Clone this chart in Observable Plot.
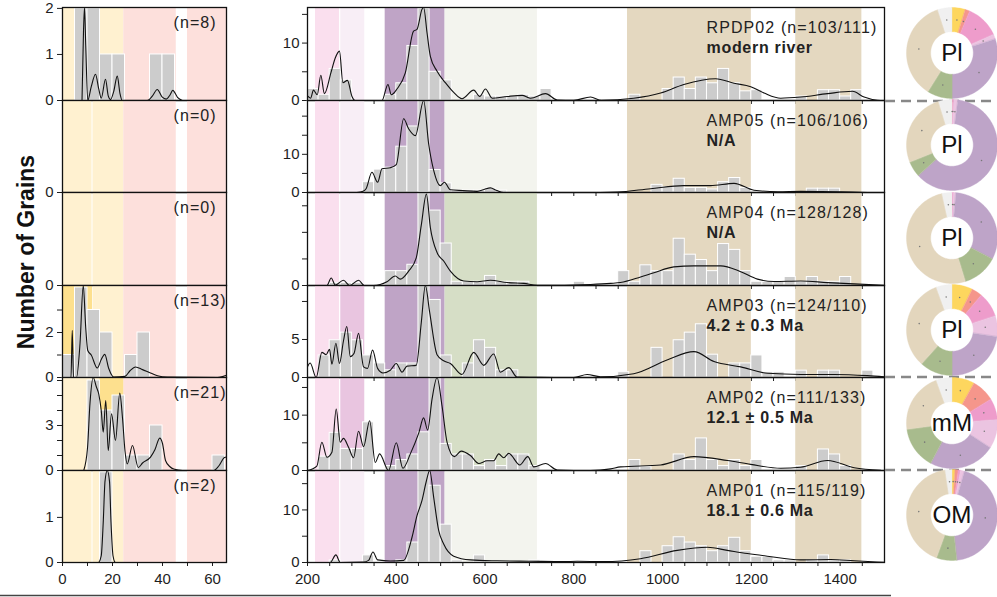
<!DOCTYPE html>
<html><head><meta charset="utf-8">
<script src="https://cdn.jsdelivr.net/npm/d3@7"></script>
<script src="https://cdn.jsdelivr.net/npm/@observablehq/plot@0.6"></script>
<style>
body{margin:0;background:#fff;}
#fig{position:relative;width:997px;height:597px;overflow:hidden;background:#fff;font-family:"Liberation Sans",Arial,sans-serif;}
#fig .p{position:absolute;}
</style></head><body><div id="fig"></div>
<script>
// ---------- DATA ----------
const samples = ["RPDP02","AMP05","AMP04","AMP03","AMP02","AMP01"];
const nCounts = ["(n=103/111)","(n=106/106)","(n=128/128)","(n=124/110)","(n=111/133)","(n=115/119)"];
const ageNotes = ["modern river","N/A","N/A","4.2 \u00b1 0.3 Ma","12.1 \u00b1 0.5 Ma","18.1 \u00b1 0.6 Ma"];
const leftN = ["(n=8)","(n=0)","(n=0)","(n=13)","(n=21)","(n=2)"];
const donutLabels = ["Pl","Pl","Pl","Pl","mM","OM"];

// left panel (young ages, Ma): counts per 5 Myr bin starting at 0
const leftCounts = [
  [0,2,2,1,1,0,0,1,1,0,0,0,0],
  [0,0,0,0,0,0,0,0,0,0,0,0,0],
  [0,0,0,0,0,0,0,0,0,0,0,0,0],
  [1,4,3,2,0,1,2,0,0,0,0,0,0],
  [0,0,6,4,5,1,1,3,0,0,0,0,1],
  [0,0,0,2,0,0,0,0,0,0,0,0,0]
];
const leftKde = [
  [[7.8,0],[8.4,1.5],[8.8,2.6],[9.3,1.2],[10.1,0],[11.5,0.3],[13.2,0.57],[14.5,0.25],[15.5,0.05],[17.2,0.46],[18.3,0.1],[19.2,0.02],[20.5,0.2],[21.9,0.53],[23,0.15],[23.9,0],[33.9,0],[36,0.1],[37.9,0.24],[39.8,0.08],[41.5,0.03],[43,0.12],[44.1,0.22],[46,0.07],[47.9,0]],
  [],
  [],
  [[0,0],[3.4,0],[3.9,2.1],[4.4,0],[5.6,0],[7,1.5],[8.3,4.3],[9.3,2.2],[10.1,1.2],[11.5,1.0],[13.9,0.42],[15.5,0.8],[16.9,1.03],[18.5,0.4],[20.5,0.02],[25,0.05],[27,0.3],[29.2,0.47],[32,0.35],[35.2,0.2],[38,0.08],[41.9,0.02],[62,0],[64,0.04],[65.6,0.1]],
  [[8.5,0],[10,1.5],[11,4.5],[12.3,6.3],[13.5,5.6],[14.5,5.1],[15.5,4],[16.3,2.56],[17.3,4.67],[18.3,1.33],[19.6,3.78],[21.2,2.0],[22.9,5.16],[24,3.5],[25,1.3],[25.9,0.44],[28,1.67],[30.3,0.2],[32,0.5],[35.2,0.89],[37,1.4],[38.9,2.16],[40,1.8],[41.2,0.67],[43,0.25],[44.5,0.1],[48,0],[60.5,0],[62.5,0.3],[64.8,0.87],[65.6,0.9]],
  [[14.5,0],[15.5,0.15],[16.3,0.9],[17,1.8],[17.9,2.5],[18.8,1.8],[19.4,0.9],[20.2,0.15],[21,0]]
];

// middle panel (Ma): counts per 25 Myr bin from 200 to 1475
const midCounts = [
  [2,1,5.5,3.5,0,0,0,1,3,9.5,16,5,3.5,0,0,1,0.7,0.7,0.7,1,0.7,2,0,0,0,0,0,0,0,1,0,0,2,4,2,4,3,5.5,3,1.6,1.8,0,0,0,0.7,0,1.8,1.8,0.7,1.8,0,0],
  [0,0,0,0,0,2.7,6,6.5,12,17.3,24,5.9,2.4,0.5,0.5,0.5,1,0.5,0,0,0,0,0,0,0,0,0,0,0,0,0,2,1.4,3.6,1.2,1.2,0.8,2.7,3.8,1.2,0,0,0,0,0,1,1,1,0,0,0,0],
  [0,0,0.5,0.5,0.5,0,0,2.7,2.7,3.9,18,14.1,7.9,0.7,0.7,0.7,1.8,0.7,0.7,0.7,0,0,0,0,0.7,0,0,0,2.7,0.7,3.8,2.7,2.7,8.8,5.8,4.8,2.7,7.8,6.7,2.7,0.7,0.7,0.7,1.6,0.7,1.6,0.7,0.7,1.6,0,0,0],
  [0,2.9,4.9,5.9,4.9,2.9,1.85,0.95,1.85,1.85,13,10.2,2.9,0,1.85,4.9,3.9,0.95,0.95,0,0,0,0,0,0,0,0,0,0.7,0,0,3.9,0,4.9,5.9,7,3,0,1.85,1.85,2.9,0.7,0.7,0,0.9,0,0.9,0.9,0,0,0.9,0],
  [0,2.5,6.8,3.9,3.9,8.7,0,0.8,1.9,2.9,6.9,17.5,4.8,2.9,2.9,0.8,1.9,0.8,2.9,2.9,0.8,0,0,0,0,0,0,0,0,1.9,0.65,0,0,2.9,1.9,5.8,1.9,0.8,1.9,0.8,1.9,0,0,0,0.8,0,3.8,2.9,0.8,0,0,0],
  [0,0,0.4,0,0,1.35,0,0,0.4,3.8,17.6,14.6,7.2,0.4,0,1.35,0,0,0,0,0.4,0,0,0,0.25,0,0,0,0,0,2.15,0,3.1,4.8,3.8,3.1,2.15,3.1,4.7,2.15,1.1,1.1,0.4,0.4,0,0.4,1.35,0.4,0.4,0,0,0]
];
const midKde = [
  [[200,0.8],[207,0.4],[213.5,1.8],[222,1.0],[230,4.4],[238,1.2],[252.7,4.8],[262.5,7.4],[272,8.6],[279.8,3.1],[290,3.5],[300,0.75],[307.6,0],[367.8,0],[381.3,2.8],[388.8,1.0],[401.6,2.0],[420.4,4.8],[439,12.1],[446.7,12.4],[458,15.9],[461.7,16.6],[469.3,11.8],[476.8,7.7],[491.9,5.1],[510.6,3.1],[529.4,1.4],[548.2,0.3],[574.5,1.8],[588,0.7],[600.9,2.0],[616,0.4],[649.8,0.7],[683.6,0.9],[702.4,0.4],[736.2,1.2],[762.6,0.1],[800,0.05],[837.7,0.6],[862,0.05],[935,0.4],[995.6,1.3],[1048,2.8],[1119.7,3.8],[1161,3.0],[1198.6,2.4],[1228.7,1.3],[1266,0.4],[1311,0.6],[1371.7,1.2],[1428,1.6],[1454,0.6],[1484,0.05],[1500,0]],
  [[311,0],[325,0.3],[332,1.0],[345.2,5.3],[358,2.7],[367.8,6.2],[386.6,6.5],[400,7.3],[416.6,19.3],[427.8,16.7],[443,14.9],[461.7,24.5],[473,12.7],[484.3,5.8],[499.3,1.8],[508.4,2.7],[521.9,0.7],[550,0.5],[582,0.3],[598,0.8],[612,1.2],[627,0.5],[642,0],[860,0],[898,0.1],[973,1.0],[1048,1.8],[1108,1.8],[1161,2.4],[1206,0.6],[1260,0.2],[1311,0.3],[1402,0.2],[1462,0]],
  [[200,0],[243.7,0],[253.5,1.4],[262.5,0.1],[281,1.0],[294.7,0],[315,1.0],[328,0],[349,0],[379,0.7],[397.8,1.8],[409,1.2],[427.8,2.7],[445,5.2],[456.6,11.5],[467.8,17.2],[476.8,10.9],[491.9,6.2],[506.8,4.6],[521.9,2.7],[552,0.85],[582,0.7],[612,1.0],[649.8,0.55],[687.3,0.4],[717.5,0.05],[762.6,0.05],[837.7,0.2],[883,0.4],[905,0.55],[950.5,1.6],[980.5,2.4],[1025.6,3.5],[1070.7,3.7],[1131,3.7],[1176,2.6],[1213.7,1.2],[1251,0.75],[1311.4,0.85],[1371.7,0.55],[1431.7,0.3],[1499,0.05]],
  [[200,1.4],[206,1.9],[219.6,0],[232.4,3.3],[242,3.0],[249.6,3.7],[255,1.75],[264,4.5],[272,1.85],[281,4.8],[288.6,6.7],[296.3,2.75],[305,3.2],[315,5.8],[326.3,1.4],[335.3,1.2],[346.6,3.6],[358,1.2],[370,0.6],[386.6,0.95],[400,1.85],[413,0.7],[424.2,1.5],[445,1.6],[456.5,7.3],[465.5,13],[475.2,8.6],[491.9,3.0],[506.8,2.2],[521.9,1.85],[548,0.4],[574.5,3.3],[597,1.6],[619.6,3.1],[634.7,0.7],[653.5,1.3],[672.3,0.05],[725,0.02],[800,0],[830,0.4],[860,0.1],[935,0.5],[1010,2.3],[1070.7,3.4],[1115.8,2.1],[1176,1.4],[1236.7,0.55],[1311,0.4],[1386,0.4],[1461.5,0.25],[1500,0.1]],
  [[200,0],[221,0.8],[232.4,5.1],[243.7,2.4],[255,3.3],[264.7,11.1],[273.8,5.1],[281,5.8],[292.5,4.2],[303.8,2.3],[315,7.1],[326.3,4.3],[340,9.0],[352.7,1.45],[362.4,3.0],[382.7,0],[400,5.0],[415,0.4],[431.7,3.0],[450.4,6.7],[461.7,9.5],[470.7,7.3],[480.6,12.9],[491.9,16.8],[503.2,11.6],[514.5,5.1],[531,2.5],[546,3.5],[567,2.7],[585.7,1.26],[604.6,1.76],[619.6,1.76],[630.9,3.0],[642,2.3],[653.5,3.1],[678.3,1.0],[696.3,2.5],[709.8,0.65],[736.2,1.26],[762.6,0.1],[837.7,0],[883,0.3],[905.4,0.65],[995.6,1.0],[1070.7,2.5],[1146,1.8],[1198.6,1.1],[1266.3,0.4],[1311,0.6],[1371.7,1.8],[1431.7,0.5],[1492,0.05]],
  [[200,0],[251,0],[264,1.45],[273.8,0],[326.3,0.08],[337.6,0.4],[347.5,2.0],[358,0.5],[386.6,0.28],[416.6,0.4],[435.5,4.8],[446.7,8.9],[458,11.8],[467.8,15.5],[475.3,17.6],[484.3,12.4],[495.5,6.1],[506.8,3.5],[529.4,1.2],[567,0.5],[627,0.32],[702.4,0.24],[777.5,0.16],[807.6,0.24],[867.7,0.16],[950,0.72],[1033,2.3],[1101,2.9],[1146,2.3],[1191,1.7],[1236,1.2],[1311,0.5],[1379,0.56],[1432,0.32],[1500,0.04]]
];

// donut shares (degrees): yellow, salmon, pink, light pink, purple, green, tan, grey
const donutShares = [
  [17,6,43,6,108,32,130,18],
  [0,0.5,2,5,220.5,20,95,17],
  [0,0,2,3,112.5,45.5,184.5,12.5],
  [26.5,13.5,32,26.5,81.5,42,118,20],
  [29,29.7,27.3,37,85,54,78,20],
  [4,4,3,5,158,26,151.6,8.4]
];
const donutColors = ["#fdd65e","#f5968b","#ee9ccb","#ebc4e1","#bea4c8","#a8bb8d","#e3d6bd","#f0f0f0"];

// age windows (background bands)
const leftBands = [[0,11.8,"#fff1d0"],[12.2,24.5,"#fff1d0"],[24.5,45.5,"#fde0dc"],[50,65.6,"#fde0dc"]];
const leftHighlight = [null,null,null,[0,12],[15,24.5],null];
const midBands = [[218,272,"pinkA"],[275,329,"pinkB"],[375,510,"purple"],[510,718,"green"],[921,1200,"tan"],[1300,1449,"tan"]];
const pinkBStrong = [false,false,false,true,true,false];
const greenStrong = [false,false,true,true,true,false];

// ---------- LAYOUT ----------
const rowTops = [7,100,192,285,377,470];
const rowH = [93,92,93,92,93,92];
const leftYMax = [2.02,1,1,4.09,6.2,2.04];
const leftYTicks = [[0,1,2],[0],[0],[0,1,2,3],[0,1,2,3,4,5,6],[0,1]];
const leftYLabels = [[0,1,2],[0],[0],[0,2],[0,3],[0,1]];
const midYMax = [16.2,24.1,17.5,12.1,16.8,17.5];
const midYTicks = [[0,5,10,15],[0,5,10,15,20],[0,5,10,15],[0,5,10],[0,5,10,15],[0,5,10,15]];
const midYLabels = [[0,10],[0,10],[0],[0,5],[0,10],[0,10]];

const fig = document.getElementById("fig");
const style = {background:"transparent", overflow:"visible", fontSize:"15px",
  fontFamily:"'Liberation Sans', Arial, Helvetica, sans-serif", color:"#1e1e1e"};

function place(el, left, top) {
  const d = document.createElement("div");
  d.className = "p"; d.style.left = left + "px"; d.style.top = top + "px";
  d.appendChild(el); fig.appendChild(d);
}
function spaceLabels(svg) {
  svg.querySelectorAll('g[aria-label="text"]').forEach(g => {
    g.style.letterSpacing = g.getAttribute("font-weight") === "bold" ? "0.7px" : "1.1px";
  });
  return svg;
}

for (let i = 0; i < 6; i++) {
  const last = i === 5;
  const mb = last ? 32 : 0;
  // LEFT
  const lbars = leftCounts[i].map((v,k) => ({x0: k*5, x1: k*5+5, v})).filter(d => d.v > 0);
  const lbands = leftBands.map(b => ({a:b[0], b:b[1], c:b[2]}));
  if (leftHighlight[i]) lbands.push({a:leftHighlight[i][0], b:leftHighlight[i][1], c:"#fde08e"});
  const lk = leftKde[i].map(p => ({x:p[0], y:p[1]}));
  const left = Plot.plot({
    width: 230, height: rowH[i] + mb, marginLeft: 62, marginRight: 4, marginTop: 0, marginBottom: mb,
    style,
    x: {domain:[0,65.6], ticks: last ? [0,10,20,30,40,50,60] : [10,20,30,40,50,60], tickSize: 4, tickPadding: 7,
        tickFormat: d => (last && d % 20 === 0) ? String(d) : "", label: null},
    y: {domain:[0,leftYMax[i]], clamp: true, ticks: leftYTicks[i], tickSize: 5, tickPadding: 4,
        tickFormat: d => leftYLabels[i].includes(d) ? String(d) : "", label: null},
    marks: [
      Plot.rect(lbands, {x1:"a", x2:"b", y1:0, y2:leftYMax[i], fill:"c"}),
      Plot.rectY(lbars, {x1:"x0", x2:"x1", y:"v", fill:"#cccccc", stroke:"white", strokeWidth:1}),
      Plot.line(lk, {x:"x", y:"y", curve:"monotone-x", stroke:"#111", strokeWidth:1.1}),
      Plot.text([leftN[i]], {frameAnchor:"top-left", text:d=>d, textAnchor:"start", lineAnchor:"top", dx:111, dy:9, fontSize:16, fill:"#222"}),
      Plot.frame({stroke:"#111", strokeWidth:1.3})
    ]
  });
  place(spaceLabels(left), 0, rowTops[i]);

  // MIDDLE
  const mbars = midCounts[i].map((v,k) => ({x0: 200+k*25, x1: 225+k*25, v})).filter(d => d.v > 0);
  const mbands = midBands.map(b => {
    let c;
    if (b[2] === "pinkA") c = "#fadfee";
    else if (b[2] === "pinkB") c = pinkBStrong[i] ? "#e9c5e0" : "#f8eef6";
    else if (b[2] === "purple") c = "#bfa4c6";
    else if (b[2] === "green") c = greenStrong[i] ? "#d6dec6" : "#f3f4ee";
    else c = "#e4d8c0";
    return {a:b[0], b:b[1], c};
  });
  const mk = midKde[i].map(p => ({x:p[0], y:p[1]}));
  const mid = Plot.plot({
    width: 646, height: rowH[i] + mb, marginLeft: 67, marginRight: 2, marginTop: 0, marginBottom: mb,
    style,
    x: {domain:[200,1500], ticks: last ? d3.range(200,1500,50) : d3.range(250,1500,50), tickSize: 4, tickPadding: 7,
        tickFormat: d => (last && d % 200 === 0) ? String(d) : "", label: null},
    y: {domain:[0,midYMax[i]], clamp: true, ticks: midYTicks[i], tickSize: 5, tickPadding: 3,
        tickFormat: d => midYLabels[i].includes(d) ? String(d) : "", label: null},
    marks: [
      Plot.rect(mbands, {x1:"a", x2:"b", y1:0, y2:midYMax[i], fill:"c"}),
      Plot.rectY(mbars, {x1:"x0", x2:"x1", y:"v", fill:"#cccccc", stroke:"white", strokeWidth:1}),
      Plot.line(mk, {x:"x", y:"y", curve:"monotone-x", stroke:"#111", strokeWidth:1.1}),
      Plot.text([samples[i] + " " + nCounts[i]], {frameAnchor:"top-left", text:d=>d, textAnchor:"start", lineAnchor:"top", dx:399, dy:14, fontSize:16, fill:"#222"}),
      Plot.text([ageNotes[i]], {frameAnchor:"top-left", text:d=>d, textAnchor:"start", lineAnchor:"top", dx:399, dy:34, fontSize:16, fontWeight:"bold", fill:"#222"}),
      Plot.frame({stroke:"#111", strokeWidth:1.3})
    ]
  });
  place(spaceLabels(mid), 240, rowTops[i]);
}

// decorative separators
const ns = "http://www.w3.org/2000/svg";
const deco = document.createElementNS(ns, "svg");
deco.setAttribute("width", 997); deco.setAttribute("height", 597);
deco.style.position = "absolute"; deco.style.left = "0"; deco.style.top = "0";
[101, 377, 470].forEach(y => {
  const l = document.createElementNS(ns, "line");
  l.setAttribute("x1", 885); l.setAttribute("x2", 997); l.setAttribute("y1", y); l.setAttribute("y2", y);
  l.setAttribute("stroke", "#888"); l.setAttribute("stroke-width", 2.5); l.setAttribute("stroke-dasharray", "10 6");
  deco.appendChild(l);
});
const bl = document.createElementNS(ns, "line");
bl.setAttribute("x1", 0); bl.setAttribute("x2", 891); bl.setAttribute("y1", 595.5); bl.setAttribute("y2", 595.5);
bl.setAttribute("stroke", "#444"); bl.setAttribute("stroke-width", 1.5);
deco.appendChild(bl);
fig.appendChild(deco);

// donuts
function donutPlot(vals, label) {
  const rIn = 22/47;
  let a0 = 0; const pts = []; const dots = [];
  vals.forEach((v, k) => {
    if (v <= 0) return;
    const a1 = a0 + v;
    const n = Math.max(2, Math.ceil(v / 2));
    for (let j = 0; j <= n; j++) { const a = (a0 + (a1 - a0) * j / n) * Math.PI / 180; pts.push({k, x: Math.sin(a), y: Math.cos(a)}); }
    for (let j = n; j >= 0; j--) { const a = (a0 + (a1 - a0) * j / n) * Math.PI / 180; pts.push({k, x: rIn*Math.sin(a), y: rIn*Math.cos(a)}); }
    const am = (a0 + a1) / 2 * Math.PI / 180, rm = (1 + rIn) / 2;
    dots.push({x: rm*Math.sin(am), y: rm*Math.cos(am)});
    a0 = a1;
  });
  return Plot.plot({
    width: 94, height: 94, margin: 0, style,
    x: {domain:[-1,1], axis:null}, y: {domain:[-1,1], axis:null},
    color: {type:"identity"},
    marks: [
      Plot.line(pts, {x:"x", y:"y", z:"k", fill: d => donutColors[d.k], stroke: d => donutColors[d.k], strokeWidth:0.4, curve:"linear-closed"}),
      Plot.dot(dots, {x:"x", y:"y", r:0.8, fill:"#777", stroke:null}),
      Plot.text([label], {x:0, y:0, text:d=>d, fontSize:25, fill:"#111", lineAnchor:"middle"})
    ]
  });
}
for (let i = 0; i < 6; i++) {
  const c = rowTops[i] + rowH[i] / 2;
  place(donutPlot(donutShares[i], donutLabels[i]), 906, c - 47);
}

// y title
const t = document.createElement("div");
t.textContent = "Number of Grains";
t.style.cssText = "position:absolute;left:26px;top:252px;transform:translate(-50%,-50%) rotate(-90deg);white-space:nowrap;font-weight:bold;font-size:23px;color:#111;font-family:'Liberation Sans',Arial,sans-serif;";
fig.appendChild(t);
</script></body></html>
